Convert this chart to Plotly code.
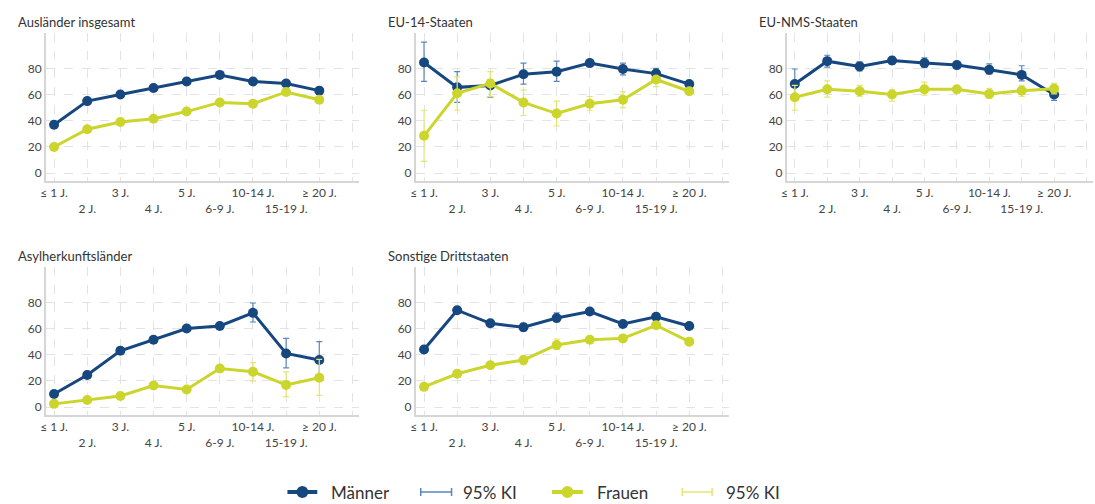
import plotly.graph_objects as go

# ---------------- data ----------------
categories = ["≤ 1 J.", "2 J.", "3 J.", "4 J.", "5 J.", "6-9 J.", "10-14 J.", "15-19 J.", "≥ 20 J."]
panel_titles = ["Ausländer insgesamt", "EU-14-Staaten", "EU-NMS-Staaten", "Asylherkunftsländer", "Sonstige Drittstaaten"]
y_ticks = [0, 20, 40, 60, 80]

# Ausländer insgesamt
men_total = [37, 55, 60, 65, 70, 75, 70, 68.5, 63]
men_total_lo = [35.5, 53.5, 58.5, 63.5, 68.5, 73.5, 68.5, 67, 61.5]
men_total_hi = [38.5, 56.5, 61.5, 66.5, 71.5, 76.5, 71.5, 70, 64.5]
women_total = [20, 33.5, 39, 41.5, 47, 54, 53, 62, 56]
women_total_lo = [18.5, 32, 37.5, 40, 45.5, 52.5, 51.5, 60.5, 54.5]
women_total_hi = [21.5, 35, 40.5, 43, 48.5, 55.5, 54.5, 63.5, 57.5]

# EU-14-Staaten
men_eu14 = [84.5, 65.5, 67, 75.5, 77.5, 84, 79.5, 76, 68]
men_eu14_lo = [70, 54, 58, 68, 70, 81.5, 75, 72.5, 66.5]
men_eu14_hi = [100, 77.5, 71, 84, 85.5, 86.5, 84, 80, 70]
women_eu14 = [28.5, 61, 68.5, 54, 45.5, 53, 56, 71.5, 62.5]
women_eu14_lo = [9, 48, 58.5, 44, 36, 48, 50, 66, 60.5]
women_eu14_hi = [48, 73.5, 77.5, 63.5, 55, 58.5, 62, 73.5, 64]

# EU-NMS-Staaten
men_nms = [68, 85.5, 81.5, 86, 84, 82.5, 79, 75, 60]
men_nms_lo = [57, 81, 78, 83, 80.5, 81, 75.5, 70.5, 55.5]
men_nms_hi = [79.5, 90, 85, 89, 88, 84.5, 83.5, 82, 63]
women_nms = [58, 64, 62.5, 60, 64, 64, 60.5, 63, 64.5]
women_nms_lo = [48, 58, 58.5, 55, 59.5, 61, 57, 58.5, 60.5]
women_nms_hi = [67, 70.5, 67, 63.5, 69.5, 66.5, 64.5, 67, 68.5]

# Asylherkunftsländer
men_asyl = [10, 24.5, 43, 51.5, 60, 62, 72, 41, 36]
men_asyl_lo = [8.5, 23, 41.5, 50, 58.5, 60.5, 65, 30, 22]
men_asyl_hi = [11.5, 26, 44.5, 53, 61.5, 63.5, 79.5, 52.5, 50]
women_asyl = [2.5, 5.5, 8.5, 16.5, 13.5, 29.5, 27, 17, 22.5]
women_asyl_lo = [1.5, 4, 7, 15, 12, 27, 20, 8, 9]
women_asyl_hi = [3.5, 7, 10, 18, 15, 32, 34, 27, 36.5]

# Sonstige Drittstaaten
men_other = [44, 74, 64, 61, 68, 73, 63.5, 69, 62]
men_other_lo = [41.5, 71.5, 61.5, 58, 65, 71, 61.5, 67, 60.5]
men_other_hi = [46.5, 76.5, 66.5, 64, 72, 75, 65.5, 71, 63.5]
women_other = [15.5, 25.5, 32, 36, 47.5, 51.5, 52.5, 62.5, 50]
women_other_lo = [14, 23, 29.5, 32.5, 44, 50, 51, 61, 48.5]
women_other_hi = [17, 28, 34.5, 39, 52, 53, 54, 64, 51.5]

# ---------------- styling ----------------
W, H = 1095, 504
BLUE = "#17477f"
BLUE_CI = "#5a86bb"
YELLOW = "#cbd52c"
YELLOW_CI = "#e3e673"
GRID = "#e3e3e3"
AXIS = "#d6d6d6"
TXT = "#333333"
FONT = "Lato"

men_sets = [(men_total, men_total_lo, men_total_hi), (men_eu14, men_eu14_lo, men_eu14_hi),
            (men_nms, men_nms_lo, men_nms_hi), (men_asyl, men_asyl_lo, men_asyl_hi),
            (men_other, men_other_lo, men_other_hi)]
women_sets = [(women_total, women_total_lo, women_total_hi), (women_eu14, women_eu14_lo, women_eu14_hi),
              (women_nms, women_nms_lo, women_nms_hi), (women_asyl, women_asyl_lo, women_asyl_hi),
              (women_other, women_other_lo, women_other_hi)]

col_px = [(40, 355), (412, 727), (785, 1093)]
row_px = [(33, 181), (267, 415)]
positions = [(0, 0), (0, 1), (0, 2), (1, 0), (1, 1)]

xs = list(range(len(categories)))
tickvals_x = list(range(len(categories) + 1))
ticktext_x = [c if i % 2 == 0 else "<br>" + c for i, c in enumerate(categories)] + [""]

fig = go.Figure()
layout = dict(
    width=W, height=H, margin=dict(l=0, r=0, t=0, b=0),
    paper_bgcolor="white", plot_bgcolor="white",
    showlegend=False, font=dict(family=FONT, color=TXT),
)
annotations = []
shapes = []

for k, (r, c) in enumerate(positions):
    n = k + 1
    xa = "x" if n == 1 else f"x{n}"
    ya = "y" if n == 1 else f"y{n}"
    for (vals, lo, hi), col, cicol in [(men_sets[k], BLUE, BLUE_CI), (women_sets[k], YELLOW, YELLOW_CI)]:
        fig.add_trace(go.Scatter(
            x=xs, y=vals, xaxis=xa, yaxis=ya, mode="lines+markers",
            line=dict(color=col, width=3), marker=dict(color=col, size=10),
            error_y=dict(type="data", symmetric=False,
                         array=[h - v for h, v in zip(hi, vals)],
                         arrayminus=[v - l for v, l in zip(vals, lo)],
                         color=cicol, thickness=1.2, width=3),
            hoverinfo="skip",
        ))
    x0, x1 = col_px[c]
    y0, y1 = row_px[r]
    layout[f"xaxis{'' if n == 1 else n}"] = dict(
        domain=[x0 / W, x1 / W], anchor=ya, range=[-0.25, 9.2],
        tickmode="array", tickvals=tickvals_x, ticktext=ticktext_x, tickangle=0,
        showgrid=True, gridcolor=GRID, griddash="dash", gridwidth=1,
        showline=True, linecolor=AXIS, linewidth=1.5, zeroline=False,
        ticks="", tickfont=dict(size=12, color="#444444", family=FONT),
    )
    layout[f"yaxis{'' if n == 1 else n}"] = dict(
        domain=[1 - y1 / H, 1 - y0 / H], anchor=xa, range=[-6, 107],
        tickmode="array", tickvals=y_ticks,
        showgrid=True, gridcolor=GRID, griddash="dash", gridwidth=1,
        showline=True, linecolor=AXIS, linewidth=1.5, zeroline=False,
        ticks="", tickfont=dict(size=12, color="#444444", family=FONT),
    )
    annotations.append(dict(
        text=panel_titles[k], xref="paper", yref="paper",
        x=(x0 - 30) / W, y=1 - (y0 - 11) / H, xanchor="left", yanchor="middle",
        showarrow=False, font=dict(size=13, color=TXT, family=FONT),
    ))

# ---------------- custom legend ----------------
ly = 1 - 492 / H
legend_items = [
    ("Männer", "line", BLUE, 283, 313, 325),
    ("95% KI", "ci", BLUE_CI, 417, 448, 458),
    ("Frauen", "line", YELLOW, 549, 580, 592),
    ("95% KI", "ci", YELLOW_CI, 680, 710, 722),
]
for label, kind, col, sx0, sx1, tx in legend_items:
    if kind == "line":
        shapes.append(dict(type="line", xref="paper", yref="paper", x0=sx0 / W, x1=sx1 / W,
                           y0=ly, y1=ly, line=dict(color=col, width=4)))
        cx = (sx0 + sx1) / 2
        shapes.append(dict(type="circle", xref="paper", yref="paper",
                           x0=(cx - 6) / W, x1=(cx + 6) / W, y0=ly - 6 / H, y1=ly + 6 / H,
                           fillcolor=col, line=dict(color=col, width=0)))
    else:
        shapes.append(dict(type="line", xref="paper", yref="paper", x0=sx0 / W, x1=sx1 / W,
                           y0=ly, y1=ly, line=dict(color=col, width=1.5)))
        for ex in (sx0, sx1):
            shapes.append(dict(type="line", xref="paper", yref="paper", x0=ex / W, x1=ex / W,
                               y0=ly - 4 / H, y1=ly + 4 / H, line=dict(color=col, width=1.5)))
    annotations.append(dict(text=label, xref="paper", yref="paper", x=tx / W, y=ly,
                            xanchor="left", yanchor="middle", showarrow=False,
                            font=dict(size=17, color=TXT, family=FONT)))

layout["annotations"] = annotations
layout["shapes"] = shapes
fig.update_layout(**layout)
fig.write_html("out.html", config={"displayModeBar": False},
               post_script="document.body.style.margin='0px';document.body.style.padding='0px';")
